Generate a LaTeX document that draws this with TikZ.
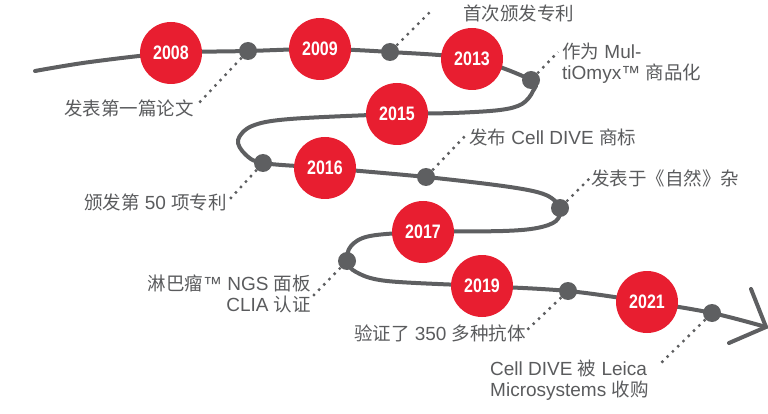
\documentclass[tikz,border=0pt]{standalone}
\usepackage{fontspec}
\setmainfont{Liberation Sans}
\newfontfamily\cjk{Noto Sans CJK SC}
\newfontfamily\yearfont{Liberation Sans}[FakeStretch=0.82]
\definecolor{tlred}{HTML}{E81E30}
\definecolor{tlgray}{HTML}{5E5F61}
\definecolor{txtgray}{HTML}{5A5B5D}
\tikzset{
  year/.style={circle, fill=tlred, minimum size=62pt, inner sep=0pt, text=white,
    font=\yearfont\bfseries\fontsize{19.5}{20}\selectfont},
  evt/.style={circle, fill=tlgray, minimum size=18pt, inner sep=0pt},
  lead/.style={draw=tlgray, line width=2.4pt, dash pattern=on 2.4pt off 5pt},
  lbl/.style={text=txtgray, font=\fontsize{19}{21}\selectfont, inner sep=0pt},
  track/.style={draw=tlgray, line width=4pt, line cap=round, line join=round},
}
\newcommand\zh[1]{{\cjk\fontsize{18.5}{21}\selectfont #1}}
\begin{document}
\begin{tikzpicture}[x=1pt, y=-1pt]
\useasboundingbox (0,0) rectangle (768,414);
% positions
\coordinate (start) at (35,71);
\coordinate (p2008) at (171,53);
\coordinate (p1) at (248,51);
\coordinate (p2009) at (320,49);
\coordinate (p2) at (390,52);
\coordinate (p2013) at (472,59);
\coordinate (p3) at (531,80);
\coordinate (p2015) at (397,114);
\coordinate (p4) at (263,163);
\coordinate (p2016) at (325,168);
\coordinate (p5) at (426,177);
\coordinate (p6) at (560,208);
\coordinate (p2017) at (423,232);
\coordinate (p7) at (347,261);
\coordinate (p2019) at (482,286);
\coordinate (p8) at (568,291);
\coordinate (p2021) at (647,302);
\coordinate (p9) at (712,313);
\coordinate (tip) at (766,327);
% track
\draw[track] plot[smooth, tension=0.55] coordinates {
  (start) (90,62) (p2008) (p1) (p2009) (p2) (p2013) (p3)
  (533,91) (522,104) (500,110) (453,113) (p2015) (290,119) (252,126) (238,140)
  (245,154) (p4) (p2016) (p5) (510,187) (546,195) (p6) (556,221) (537,228)
  (503,231) (p2017) (370,236) (351,246) (p7) (356,272) (387,281) (p2019) (p8)
  (p2021) (p9) (tip)};
\draw[track, line join=miter] (751,289) -- (tip) -- (729,343);
% year circles
\node[year] (y2008) at (p2008) {2008};
\node[year] (y2009) at (p2009) {2009};
\node[year] (y2013) at (p2013) {2013};
\node[year] (y2015) at (p2015) {2015};
\node[year] (y2016) at (p2016) {2016};
\node[year] (y2017) at (p2017) {2017};
\node[year] (y2019) at (p2019) {2019};
\node[year] (y2021) at (p2021) {2021};
% event dots
\node[evt] (e1) at (p1) {};
\node[evt] (e2) at (p2) {};
\node[evt] (e3) at (p3) {};
\node[evt] (e4) at (p4) {};
\node[evt] (e5) at (p5) {};
\node[evt] (e6) at (p6) {};
\node[evt] (e7) at (p7) {};
\node[evt] (e8) at (p8) {};
\node[evt] (e9) at (p9) {};
% leader ends
\coordinate (l1) at (197,105);
\coordinate (l2) at (430,12);
\coordinate (l3) at (558,52);
\coordinate (l4) at (229,200);
\coordinate (l5) at (466,135);
\coordinate (l6) at (590,178);
\coordinate (l7) at (312,297);
\coordinate (l8) at (527,330);
\coordinate (l9) at (659,365);
\draw[lead] (e1) -- (l1);
\draw[lead] (e2) -- (l2);
\draw[lead] (e3) -- (l3);
\draw[lead] (e4) -- (l4);
\draw[lead] (e5) -- (l5);
\draw[lead] (e6) -- (l6);
\draw[lead] (e7) -- (l7);
\draw[lead] (e8) -- (l8);
\draw[lead] (e9) -- (l9);
% labels
\node[lbl, anchor=east] (t1) at (194,108) {\zh{发表第一篇论文}};
\node[lbl, anchor=west] (t2) at (463,13) {\zh{首次颁发专利}};
\node[lbl, anchor=west, align=left] (t3) at (562,63.5) {\zh{作为} Mul-\\tiOmyx™ \zh{商品化}};
\node[lbl, anchor=east] (t4) at (227,202) {\zh{颁发第} 50 \zh{项专利}};
\node[lbl, anchor=west] (t5) at (469,137) {\zh{发布} Cell DIVE \zh{商标}};
\node[lbl, anchor=west] (t6) at (591,178) {\zh{发表于《自然》杂}};
\node[lbl, anchor=east, align=right] (t7) at (311,293.5) {\zh{淋巴瘤}™ NGS \zh{面板}\\CLIA \zh{认证}};
\node[lbl, anchor=east] (t8) at (526,333) {\zh{验证了} 350 \zh{多种抗体}};
\node[lbl, anchor=west, align=left] (t9) at (490,380.5) {Cell DIVE \zh{被} Leica\\Microsystems \zh{收购}};
\end{tikzpicture}
\end{document}
